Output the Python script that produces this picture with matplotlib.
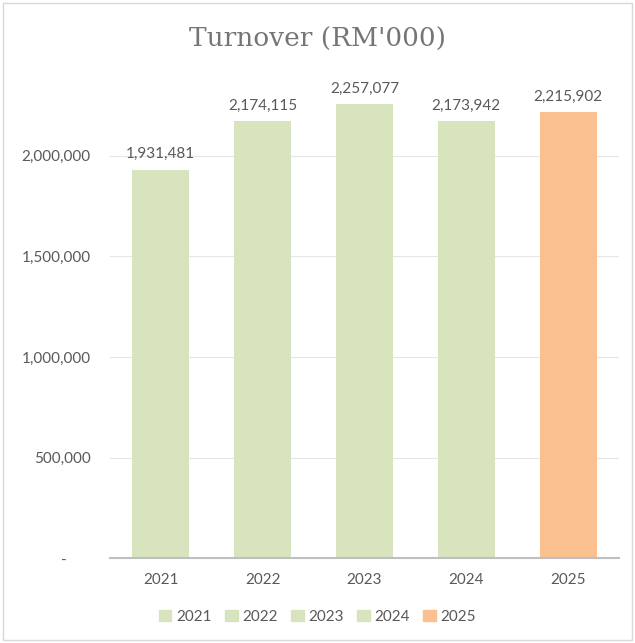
import matplotlib.pyplot as plt
from matplotlib.patches import Patch, Rectangle

years = ["2021", "2022", "2023", "2024", "2025"]
turnover = [1931481, 2174115, 2257077, 2173942, 2215902]
colors = ["#D7E4BD", "#D7E4BD", "#D7E4BD", "#D7E4BD", "#FAC08F"]
yticks = [0, 500000, 1000000, 1500000, 2000000]

plt.rcParams['font.family'] = ['Lato', 'DejaVu Sans']
txt = "#595959"

fig = plt.figure(figsize=(6.35, 6.43), dpi=100)
ax = fig.add_axes([0.173, 0.132, 0.802, 0.782])

x = range(len(years))
ax.bar(x, turnover, width=0.56, color=colors, zorder=2)
for i, v in enumerate(turnover):
    ax.annotate(f"{v:,}", (i, v), xytext=(0, 6), textcoords="offset points",
                ha="center", va="bottom", fontsize=11, color=txt)

ax.set_xlim(-0.5, len(years) - 0.5)
ax.set_ylim(0, 2500000)
ax.set_xticks(list(x))
ax.set_xticklabels(years)
ax.set_yticks(yticks)
# accounting style: zero shown as a dash set in from the right edge
ax.set_yticklabels(["-" + " " * 6 if t == 0 else f"{t:,}" for t in yticks])
ax.tick_params(axis="both", length=0, labelsize=11, labelcolor=txt)
ax.tick_params(axis="x", pad=11)
ax.tick_params(axis="y", pad=14)
ax.grid(axis="y", color="#E6E6E6", linewidth=0.8, zorder=0)
for s in ["top", "right", "left"]:
    ax.spines[s].set_visible(False)
ax.spines["bottom"].set_color("#BFBFBF")
ax.spines["bottom"].set_linewidth(1.5)
ax.spines["bottom"].set_zorder(3)

fig.text(0.5, 0.938, "Turnover (RM'000)", ha="center", va="center",
         fontsize=19, color="#757575", family="DejaVu Serif")

handles = [Patch(color=c, label=y) for y, c in zip(years, colors)]
fig.legend(handles=handles, loc="center", bbox_to_anchor=(0.5, 0.041), ncol=5,
           frameon=False, fontsize=11, labelcolor=txt, handlelength=0.8,
           handleheight=0.8, handletextpad=0.3, columnspacing=0.9)

fig.patches.append(Rectangle((0.005, 0.005), 0.99, 0.99, transform=fig.transFigure,
                             fill=False, edgecolor="#D9D9D9", linewidth=1))

fig.savefig("out.png", dpi=100)
